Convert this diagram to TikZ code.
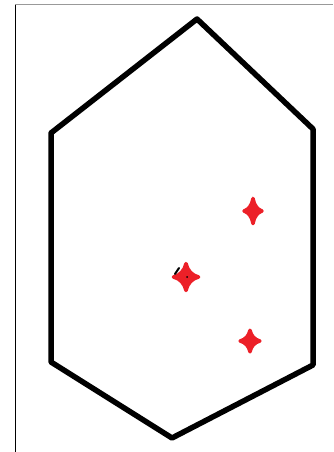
\documentclass[tikz,border=0pt]{standalone}
\begin{document}
\begin{tikzpicture}[x=0.75pt,y=-0.75pt,
  hexline/.style={line width=5.5*0.75pt, line join=round, line cap=round, black},
  redstar/.style={fill=starred, draw=starred, line width=2.6pt, line join=round},
  pics/fourstar/.style={code={
    \path[redstar] (0,-0.9) .. controls (0.12,-0.42) and (0.42,-0.12) .. (0.9,0)
      .. controls (0.42,0.12) and (0.12,0.42) .. (0,0.9)
      .. controls (-0.12,0.42) and (-0.42,0.12) .. (-0.9,0)
      .. controls (-0.42,-0.12) and (-0.12,-0.42) .. cycle;
  }}]
\definecolor{starred}{RGB}{236,32,40}
\useasboundingbox (0,0) rectangle (333,452);
% frame
\draw[line width=0.75pt, gray!80] (15,5) -- (333,5);
\draw[line width=0.75pt, black] (15,5) -- (15,452);
% hexagon
\coordinate (t) at (197,19);
\coordinate (ur) at (313,129);
\coordinate (lr) at (313,365);
\coordinate (b) at (172,438);
\coordinate (ll) at (51,362);
\coordinate (ul) at (51,133);
\draw[hexline] (t) -- (ur) -- (lr) -- (b) -- (ll) -- (ul) -- cycle;
% stars
\pic[xscale=14, yscale=15] at (186,277) {fourstar};
\pic[xscale=10, yscale=14] at (253,211) {fourstar};
\pic[xscale=11, yscale=12] at (250,341) {fourstar};
\draw[black, line width=1.5pt, line cap=round] (175,274) -- (179,268);
\fill[black] (187,277) circle (1);
\end{tikzpicture}
\end{document}
